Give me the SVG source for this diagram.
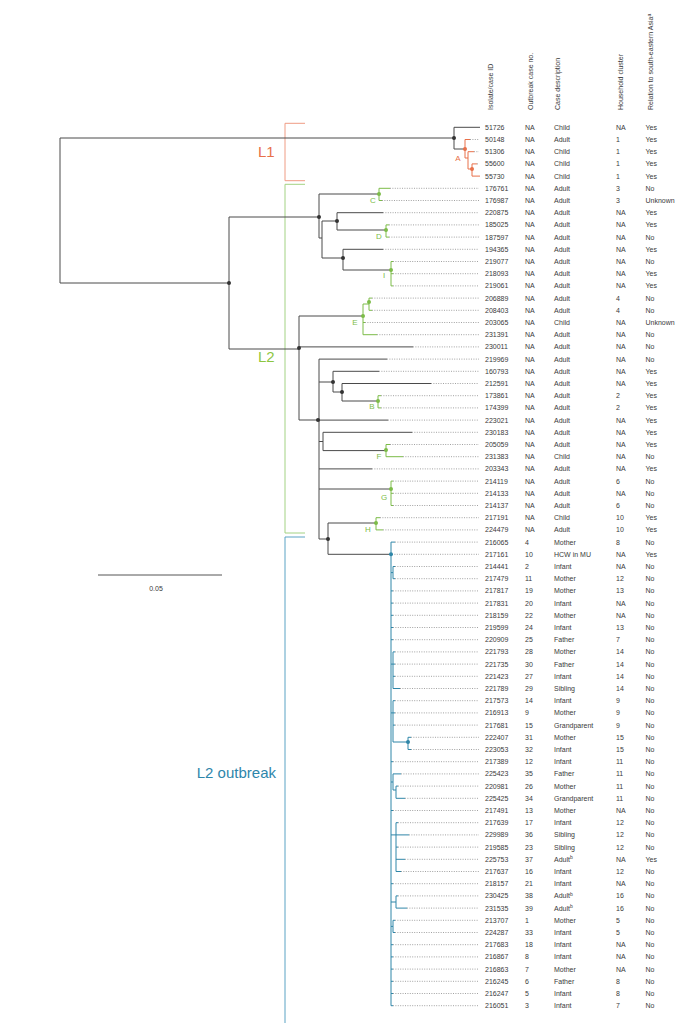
<svg xmlns="http://www.w3.org/2000/svg" width="690" height="1023" viewBox="0 0 690 1023">
<style>
.t{font-family:"Liberation Sans",Arial,sans-serif;font-size:7px;fill:#3a3a3a}
.lab{font-family:"Liberation Sans",Arial,sans-serif;font-size:8px}
.big{font-family:"Liberation Sans",Arial,sans-serif;font-size:15px}
.br{fill:none;stroke:#4a4a4a;stroke-width:1}
.o{fill:none;stroke:#e8704a;stroke-width:1}
.g{fill:none;stroke:#7cbc48;stroke-width:1}
.b{fill:none;stroke:#2f86a8;stroke-width:1}
.dt{fill:none;stroke:#8a8a8a;stroke-width:0.8;stroke-dasharray:1 1.4}
.dk{fill:#333}
.do{fill:#e8704a}
.dg{fill:#7cbc48}
.db{fill:#2f86a8}
</style>
<rect width="690" height="1023" fill="#fff"/>
<g id="header" class="t">
<text transform="translate(493,110) rotate(-90)">Isolate/case ID</text>
<text transform="translate(533,110) rotate(-90)">Outbreak case no.</text>
<text transform="translate(560,110) rotate(-90)">Case description</text>
<text transform="translate(623,110) rotate(-90)">Household cluster</text>
<text transform="translate(653,110) rotate(-90)">Relation to south-eastern Asia<tspan font-size="5" dy="-2.5">a</tspan></text>
</g>
<g id="brackets">
<path d="M305 123.3H285V180.7H305" fill="none" stroke="#ef9c84" stroke-width="1"/>
<path d="M305 184.3H285V533H305" fill="none" stroke="#a3d283" stroke-width="1"/>
<path d="M305 537H285V1023" fill="none" stroke="#5aa3c4" stroke-width="1"/>
<text class="big" x="258" y="157" fill="#e8704a">L1</text>
<text class="big" x="258" y="362" fill="#8cc63f">L2</text>
<text class="big" x="276" y="778" fill="#2e86ab" text-anchor="end">L2 outbreak</text>
</g>
<g id="scale">
<path d="M98 575H222" stroke="#555" stroke-width="1"/>
<text class="t" x="156" y="591" text-anchor="middle">0.05</text>
</g>
<g id="connectors">
<path class="dt" d="M470 139.5H479M474 151.7H479M477 163.9H479M390 188.3H479M382 200.5H479M383 212.7H479M389 224.9H479M389 237.1H479M383 249.3H479M393 261.5H479M393 273.7H479M393 285.9H479M372 298.1H479M372 310.3H479M365 322.5H479M377 334.7H479M413 346.9H479M387 359.1H479M379 371.3H479M431 383.5H479M381 395.7H479M381 407.9H479M388 420.1H479M412 432.3H479M390 444.5H479M403 456.7H479M372 468.9H479M393 481.1H479M393 493.3H479M393 505.5H479M380 517.7H479M383 529.9H479M395 542.1H479M392 554.3H479M395 566.5H479M395 578.7H479M393 590.9H479M393 603.1H479M393 615.3H479M393 627.5H479M393 639.7H479M395 651.9H479M395 664.1H479M395 676.3H479M400 688.5H479M395 700.7H479M395 712.9H479M395 725.1H479M411 737.3H479M411 749.5H479M393 761.7H479M401 773.9H479M398 786.1H479M405 798.3H479M393 810.5H479M398 822.7H479M409 834.9H479M398 847.1H479M405 859.3H479M401 871.5H479M393 883.7H479M398 895.9H479M407 908.1H479M395 920.3H479M395 932.5H479M393 944.7H479M393 956.9H479M393 969.1H479M393 981.3H479M393 993.5H479M393 1005.7H479"/>
<path class="br" d="M60 138V283M60 138H454M60 283H229M229 217V349M229 217H319M229 349H299M319 194V238M319 194H379M319 238H322M322 221V258M322 221H337M322 258H343M337 212.7V230M337 212.7H383M337 230H386M343 249.3V270M343 249.3H383M343 270H391M454 127.3V149M454 127.3H480M454 149H465M299 316V420M299 316H363M299 346.9H413M299 420H319M319 359.1V539M319 359.1H387M319 382H333M319 420.1H388M319 441.5H323M319 468.9H372M319 489H391M319 539H328M333 371.3V392M333 371.3H379M333 392H342M342 383.5V401M342 383.5H431M342 401H378M323 432.3V450.6M323 432.3H412M323 450.6H386M328 523V554.3M328 523H376M328 554.3H391"/>
<path class="o" d="M465 139.5V158M465 139.5H470M465 158H468M468 151.7V169M468 151.7H474M468 169H472M472 163.9V176.1M472 163.9H477M472 176.1H480"/>
<path class="g" d="M379 188.3V200.5M379 188.3H390M379 200.5H382M386 224.9V237.1M386 224.9H389M386 237.1H389M391 261.5V285.9M391 261.5H393M391 273.7H393M391 285.9H393M363 304V334.7M363 304H369M363 322.5H365M363 334.7H377M369 298.1V310.3M369 298.1H372M369 310.3H372M378 395.7V407.9M378 395.7H381M378 407.9H381M386 444.5V456.7M386 444.5H390M386 456.7H403M391 481.1V505.5M391 481.1H393M391 493.3H393M391 505.5H393M376 517.7V529.9M376 517.7H380M376 529.9H383"/>
<path class="b" d="M391 542.1V1005.7M391 542.1H395M391 554.3H392M391 590.9H393M391 603.1H393M391 615.3H393M391 627.5H393M391 639.7H393M391 761.7H393M391 810.5H393M391 883.7H393M391 944.7H393M391 956.9H393M391 969.1H393M391 981.3H393M391 993.5H393M391 1005.7H393M391 572.6H393M393 566.5V578.7M393 566.5H395M393 578.7H395M391 664.1H395M393 651.9V688.5M393 651.9H395M393 676.3H395M393 688.5H400M391 712.9H395M393 700.7V742M393 700.7H395M393 725.1H395M393 742H408M408 737.3V749.5M408 737.3H411M408 749.5H411M391 782H393M393 773.9V790M393 773.9H401M393 790H396M396 786.1V798.3M396 786.1H398M396 798.3H405M391 834.9H409M396 822.7V871.5M396 822.7H398M396 847.1H398M396 859.3H405M396 871.5H401M391 902H396M396 895.9V908.1M396 895.9H398M396 908.1H407M391 926.4H393M393 920.3V932.5M393 920.3H395M393 932.5H395"/>
</g>
<g id="internal-nodes">
<circle class="dk" cx="454" cy="138" r="2"/>
<circle class="dk" cx="229" cy="283" r="2"/>
<circle class="dk" cx="319" cy="217" r="2"/>
<circle class="dk" cx="337" cy="221" r="2"/>
<circle class="dk" cx="343" cy="258" r="2"/>
<circle class="dk" cx="299" cy="348" r="2"/>
<circle class="dk" cx="333" cy="382" r="2"/>
<circle class="dk" cx="342" cy="392" r="2"/>
<circle class="dk" cx="318" cy="420" r="2"/>
<circle class="dk" cx="328" cy="539" r="2"/>
<circle class="do" cx="465" cy="149" r="2"/>
<circle class="do" cx="472" cy="169" r="2"/>
<circle class="dg" cx="379" cy="194" r="2"/>
<circle class="dg" cx="386" cy="230" r="2"/>
<circle class="dg" cx="391" cy="270" r="2"/>
<circle class="dg" cx="363" cy="316" r="2"/>
<circle class="dg" cx="369" cy="302" r="2"/>
<circle class="dg" cx="378" cy="401" r="2"/>
<circle class="dg" cx="386" cy="450" r="2"/>
<circle class="dg" cx="391" cy="489" r="2"/>
<circle class="dg" cx="376" cy="523" r="2"/>
<circle class="db" cx="391" cy="554.3" r="2"/>
<circle class="db" cx="408" cy="742" r="2"/>
</g>
<g id="clade-labels" class="lab" text-anchor="middle">
<text x="458" y="161" fill="#e8704a">A</text>
<text x="373" y="203" fill="#7cbc48">C</text>
<text x="379" y="239" fill="#7cbc48">D</text>
<text x="384" y="278" fill="#7cbc48">I</text>
<text x="355" y="325" fill="#7cbc48">E</text>
<text x="372" y="409" fill="#7cbc48">B</text>
<text x="379" y="459" fill="#7cbc48">F</text>
<text x="384" y="500" fill="#7cbc48">G</text>
<text x="368" y="532" fill="#7cbc48">H</text>
</g>
<g id="leaves" class="t">
<g id="leaf-51726"><text y="129.8"><tspan x="485">51726</tspan><tspan x="525">NA</tspan><tspan x="554">Child</tspan><tspan x="616">NA</tspan><tspan x="645.5">Yes</tspan></text></g>
<g id="leaf-50148"><text y="142"><tspan x="485">50148</tspan><tspan x="525">NA</tspan><tspan x="554">Adult</tspan><tspan x="616">1</tspan><tspan x="645.5">Yes</tspan></text></g>
<g id="leaf-51306"><text y="154.2"><tspan x="485">51306</tspan><tspan x="525">NA</tspan><tspan x="554">Child</tspan><tspan x="616">1</tspan><tspan x="645.5">Yes</tspan></text></g>
<g id="leaf-55600"><text y="166.4"><tspan x="485">55600</tspan><tspan x="525">NA</tspan><tspan x="554">Child</tspan><tspan x="616">1</tspan><tspan x="645.5">Yes</tspan></text></g>
<g id="leaf-55730"><text y="178.6"><tspan x="485">55730</tspan><tspan x="525">NA</tspan><tspan x="554">Child</tspan><tspan x="616">1</tspan><tspan x="645.5">Yes</tspan></text></g>
<g id="leaf-176761"><text y="190.8"><tspan x="485">176761</tspan><tspan x="525">NA</tspan><tspan x="554">Adult</tspan><tspan x="616">3</tspan><tspan x="645.5">No</tspan></text></g>
<g id="leaf-176987"><text y="203"><tspan x="485">176987</tspan><tspan x="525">NA</tspan><tspan x="554">Adult</tspan><tspan x="616">3</tspan><tspan x="645.5">Unknown</tspan></text></g>
<g id="leaf-220875"><text y="215.2"><tspan x="485">220875</tspan><tspan x="525">NA</tspan><tspan x="554">Adult</tspan><tspan x="616">NA</tspan><tspan x="645.5">Yes</tspan></text></g>
<g id="leaf-185025"><text y="227.4"><tspan x="485">185025</tspan><tspan x="525">NA</tspan><tspan x="554">Adult</tspan><tspan x="616">NA</tspan><tspan x="645.5">Yes</tspan></text></g>
<g id="leaf-187597"><text y="239.6"><tspan x="485">187597</tspan><tspan x="525">NA</tspan><tspan x="554">Adult</tspan><tspan x="616">NA</tspan><tspan x="645.5">No</tspan></text></g>
<g id="leaf-194365"><text y="251.8"><tspan x="485">194365</tspan><tspan x="525">NA</tspan><tspan x="554">Adult</tspan><tspan x="616">NA</tspan><tspan x="645.5">Yes</tspan></text></g>
<g id="leaf-219077"><text y="264"><tspan x="485">219077</tspan><tspan x="525">NA</tspan><tspan x="554">Adult</tspan><tspan x="616">NA</tspan><tspan x="645.5">No</tspan></text></g>
<g id="leaf-218093"><text y="276.2"><tspan x="485">218093</tspan><tspan x="525">NA</tspan><tspan x="554">Adult</tspan><tspan x="616">NA</tspan><tspan x="645.5">Yes</tspan></text></g>
<g id="leaf-219061"><text y="288.4"><tspan x="485">219061</tspan><tspan x="525">NA</tspan><tspan x="554">Adult</tspan><tspan x="616">NA</tspan><tspan x="645.5">Yes</tspan></text></g>
<g id="leaf-206889"><text y="300.6"><tspan x="485">206889</tspan><tspan x="525">NA</tspan><tspan x="554">Adult</tspan><tspan x="616">4</tspan><tspan x="645.5">No</tspan></text></g>
<g id="leaf-208403"><text y="312.8"><tspan x="485">208403</tspan><tspan x="525">NA</tspan><tspan x="554">Adult</tspan><tspan x="616">4</tspan><tspan x="645.5">No</tspan></text></g>
<g id="leaf-203065"><text y="325"><tspan x="485">203065</tspan><tspan x="525">NA</tspan><tspan x="554">Child</tspan><tspan x="616">NA</tspan><tspan x="645.5">Unknown</tspan></text></g>
<g id="leaf-231391"><text y="337.2"><tspan x="485">231391</tspan><tspan x="525">NA</tspan><tspan x="554">Adult</tspan><tspan x="616">NA</tspan><tspan x="645.5">No</tspan></text></g>
<g id="leaf-230011"><text y="349.4"><tspan x="485">230011</tspan><tspan x="525">NA</tspan><tspan x="554">Adult</tspan><tspan x="616">NA</tspan><tspan x="645.5">No</tspan></text></g>
<g id="leaf-219969"><text y="361.6"><tspan x="485">219969</tspan><tspan x="525">NA</tspan><tspan x="554">Adult</tspan><tspan x="616">NA</tspan><tspan x="645.5">No</tspan></text></g>
<g id="leaf-160793"><text y="373.8"><tspan x="485">160793</tspan><tspan x="525">NA</tspan><tspan x="554">Adult</tspan><tspan x="616">NA</tspan><tspan x="645.5">Yes</tspan></text></g>
<g id="leaf-212591"><text y="386"><tspan x="485">212591</tspan><tspan x="525">NA</tspan><tspan x="554">Adult</tspan><tspan x="616">NA</tspan><tspan x="645.5">Yes</tspan></text></g>
<g id="leaf-173861"><text y="398.2"><tspan x="485">173861</tspan><tspan x="525">NA</tspan><tspan x="554">Adult</tspan><tspan x="616">2</tspan><tspan x="645.5">Yes</tspan></text></g>
<g id="leaf-174399"><text y="410.4"><tspan x="485">174399</tspan><tspan x="525">NA</tspan><tspan x="554">Adult</tspan><tspan x="616">2</tspan><tspan x="645.5">Yes</tspan></text></g>
<g id="leaf-223021"><text y="422.6"><tspan x="485">223021</tspan><tspan x="525">NA</tspan><tspan x="554">Adult</tspan><tspan x="616">NA</tspan><tspan x="645.5">Yes</tspan></text></g>
<g id="leaf-230183"><text y="434.8"><tspan x="485">230183</tspan><tspan x="525">NA</tspan><tspan x="554">Adult</tspan><tspan x="616">NA</tspan><tspan x="645.5">Yes</tspan></text></g>
<g id="leaf-205059"><text y="447"><tspan x="485">205059</tspan><tspan x="525">NA</tspan><tspan x="554">Adult</tspan><tspan x="616">NA</tspan><tspan x="645.5">Yes</tspan></text></g>
<g id="leaf-231383"><text y="459.2"><tspan x="485">231383</tspan><tspan x="525">NA</tspan><tspan x="554">Child</tspan><tspan x="616">NA</tspan><tspan x="645.5">No</tspan></text></g>
<g id="leaf-203343"><text y="471.4"><tspan x="485">203343</tspan><tspan x="525">NA</tspan><tspan x="554">Adult</tspan><tspan x="616">NA</tspan><tspan x="645.5">Yes</tspan></text></g>
<g id="leaf-214119"><text y="483.6"><tspan x="485">214119</tspan><tspan x="525">NA</tspan><tspan x="554">Adult</tspan><tspan x="616">6</tspan><tspan x="645.5">No</tspan></text></g>
<g id="leaf-214133"><text y="495.8"><tspan x="485">214133</tspan><tspan x="525">NA</tspan><tspan x="554">Adult</tspan><tspan x="616">NA</tspan><tspan x="645.5">No</tspan></text></g>
<g id="leaf-214137"><text y="508"><tspan x="485">214137</tspan><tspan x="525">NA</tspan><tspan x="554">Adult</tspan><tspan x="616">6</tspan><tspan x="645.5">No</tspan></text></g>
<g id="leaf-217191"><text y="520.2"><tspan x="485">217191</tspan><tspan x="525">NA</tspan><tspan x="554">Child</tspan><tspan x="616">10</tspan><tspan x="645.5">Yes</tspan></text></g>
<g id="leaf-224479"><text y="532.4"><tspan x="485">224479</tspan><tspan x="525">NA</tspan><tspan x="554">Adult</tspan><tspan x="616">10</tspan><tspan x="645.5">Yes</tspan></text></g>
<g id="leaf-216065"><text y="544.6"><tspan x="485">216065</tspan><tspan x="525">4</tspan><tspan x="554">Mother</tspan><tspan x="616">8</tspan><tspan x="645.5">No</tspan></text></g>
<g id="leaf-217161"><text y="556.8"><tspan x="485">217161</tspan><tspan x="525">10</tspan><tspan x="554">HCW in MU</tspan><tspan x="616">NA</tspan><tspan x="645.5">Yes</tspan></text></g>
<g id="leaf-214441"><text y="569"><tspan x="485">214441</tspan><tspan x="525">2</tspan><tspan x="554">Infant</tspan><tspan x="616">NA</tspan><tspan x="645.5">No</tspan></text></g>
<g id="leaf-217479"><text y="581.2"><tspan x="485">217479</tspan><tspan x="525">11</tspan><tspan x="554">Mother</tspan><tspan x="616">12</tspan><tspan x="645.5">No</tspan></text></g>
<g id="leaf-217817"><text y="593.4"><tspan x="485">217817</tspan><tspan x="525">19</tspan><tspan x="554">Mother</tspan><tspan x="616">13</tspan><tspan x="645.5">No</tspan></text></g>
<g id="leaf-217831"><text y="605.6"><tspan x="485">217831</tspan><tspan x="525">20</tspan><tspan x="554">Infant</tspan><tspan x="616">NA</tspan><tspan x="645.5">No</tspan></text></g>
<g id="leaf-218159"><text y="617.8"><tspan x="485">218159</tspan><tspan x="525">22</tspan><tspan x="554">Mother</tspan><tspan x="616">NA</tspan><tspan x="645.5">No</tspan></text></g>
<g id="leaf-219599"><text y="630"><tspan x="485">219599</tspan><tspan x="525">24</tspan><tspan x="554">Infant</tspan><tspan x="616">13</tspan><tspan x="645.5">No</tspan></text></g>
<g id="leaf-220909"><text y="642.2"><tspan x="485">220909</tspan><tspan x="525">25</tspan><tspan x="554">Father</tspan><tspan x="616">7</tspan><tspan x="645.5">No</tspan></text></g>
<g id="leaf-221793"><text y="654.4"><tspan x="485">221793</tspan><tspan x="525">28</tspan><tspan x="554">Mother</tspan><tspan x="616">14</tspan><tspan x="645.5">No</tspan></text></g>
<g id="leaf-221735"><text y="666.6"><tspan x="485">221735</tspan><tspan x="525">30</tspan><tspan x="554">Father</tspan><tspan x="616">14</tspan><tspan x="645.5">No</tspan></text></g>
<g id="leaf-221423"><text y="678.8"><tspan x="485">221423</tspan><tspan x="525">27</tspan><tspan x="554">Infant</tspan><tspan x="616">14</tspan><tspan x="645.5">No</tspan></text></g>
<g id="leaf-221789"><text y="691"><tspan x="485">221789</tspan><tspan x="525">29</tspan><tspan x="554">Sibling</tspan><tspan x="616">14</tspan><tspan x="645.5">No</tspan></text></g>
<g id="leaf-217573"><text y="703.2"><tspan x="485">217573</tspan><tspan x="525">14</tspan><tspan x="554">Infant</tspan><tspan x="616">9</tspan><tspan x="645.5">No</tspan></text></g>
<g id="leaf-216913"><text y="715.4"><tspan x="485">216913</tspan><tspan x="525">9</tspan><tspan x="554">Mother</tspan><tspan x="616">9</tspan><tspan x="645.5">No</tspan></text></g>
<g id="leaf-217681"><text y="727.6"><tspan x="485">217681</tspan><tspan x="525">15</tspan><tspan x="554">Grandparent</tspan><tspan x="616">9</tspan><tspan x="645.5">No</tspan></text></g>
<g id="leaf-222407"><text y="739.8"><tspan x="485">222407</tspan><tspan x="525">31</tspan><tspan x="554">Mother</tspan><tspan x="616">15</tspan><tspan x="645.5">No</tspan></text></g>
<g id="leaf-223053"><text y="752"><tspan x="485">223053</tspan><tspan x="525">32</tspan><tspan x="554">Infant</tspan><tspan x="616">15</tspan><tspan x="645.5">No</tspan></text></g>
<g id="leaf-217389"><text y="764.2"><tspan x="485">217389</tspan><tspan x="525">12</tspan><tspan x="554">Infant</tspan><tspan x="616">11</tspan><tspan x="645.5">No</tspan></text></g>
<g id="leaf-225423"><text y="776.4"><tspan x="485">225423</tspan><tspan x="525">35</tspan><tspan x="554">Father</tspan><tspan x="616">11</tspan><tspan x="645.5">No</tspan></text></g>
<g id="leaf-220981"><text y="788.6"><tspan x="485">220981</tspan><tspan x="525">26</tspan><tspan x="554">Mother</tspan><tspan x="616">11</tspan><tspan x="645.5">No</tspan></text></g>
<g id="leaf-225425"><text y="800.8"><tspan x="485">225425</tspan><tspan x="525">34</tspan><tspan x="554">Grandparent</tspan><tspan x="616">11</tspan><tspan x="645.5">No</tspan></text></g>
<g id="leaf-217491"><text y="813"><tspan x="485">217491</tspan><tspan x="525">13</tspan><tspan x="554">Mother</tspan><tspan x="616">NA</tspan><tspan x="645.5">No</tspan></text></g>
<g id="leaf-217639"><text y="825.2"><tspan x="485">217639</tspan><tspan x="525">17</tspan><tspan x="554">Infant</tspan><tspan x="616">12</tspan><tspan x="645.5">No</tspan></text></g>
<g id="leaf-229989"><text y="837.4"><tspan x="485">229989</tspan><tspan x="525">36</tspan><tspan x="554">Sibling</tspan><tspan x="616">12</tspan><tspan x="645.5">No</tspan></text></g>
<g id="leaf-219585"><text y="849.6"><tspan x="485">219585</tspan><tspan x="525">23</tspan><tspan x="554">Sibling</tspan><tspan x="616">12</tspan><tspan x="645.5">No</tspan></text></g>
<g id="leaf-225753"><text y="861.8"><tspan x="485">225753</tspan><tspan x="525">37</tspan><tspan x="554">Adult<tspan font-size="5" dy="-2.5">b</tspan></tspan><tspan x="616" dy="2.5">NA</tspan><tspan x="645.5">Yes</tspan></text></g>
<g id="leaf-217637"><text y="874"><tspan x="485">217637</tspan><tspan x="525">16</tspan><tspan x="554">Infant</tspan><tspan x="616">12</tspan><tspan x="645.5">No</tspan></text></g>
<g id="leaf-218157"><text y="886.2"><tspan x="485">218157</tspan><tspan x="525">21</tspan><tspan x="554">Infant</tspan><tspan x="616">NA</tspan><tspan x="645.5">No</tspan></text></g>
<g id="leaf-230425"><text y="898.4"><tspan x="485">230425</tspan><tspan x="525">38</tspan><tspan x="554">Adult<tspan font-size="5" dy="-2.5">b</tspan></tspan><tspan x="616" dy="2.5">16</tspan><tspan x="645.5">No</tspan></text></g>
<g id="leaf-231535"><text y="910.6"><tspan x="485">231535</tspan><tspan x="525">39</tspan><tspan x="554">Adult<tspan font-size="5" dy="-2.5">b</tspan></tspan><tspan x="616" dy="2.5">16</tspan><tspan x="645.5">No</tspan></text></g>
<g id="leaf-213707"><text y="922.8"><tspan x="485">213707</tspan><tspan x="525">1</tspan><tspan x="554">Mother</tspan><tspan x="616">5</tspan><tspan x="645.5">No</tspan></text></g>
<g id="leaf-224287"><text y="935"><tspan x="485">224287</tspan><tspan x="525">33</tspan><tspan x="554">Infant</tspan><tspan x="616">5</tspan><tspan x="645.5">No</tspan></text></g>
<g id="leaf-217683"><text y="947.2"><tspan x="485">217683</tspan><tspan x="525">18</tspan><tspan x="554">Infant</tspan><tspan x="616">NA</tspan><tspan x="645.5">No</tspan></text></g>
<g id="leaf-216867"><text y="959.4"><tspan x="485">216867</tspan><tspan x="525">8</tspan><tspan x="554">Infant</tspan><tspan x="616">NA</tspan><tspan x="645.5">No</tspan></text></g>
<g id="leaf-216863"><text y="971.6"><tspan x="485">216863</tspan><tspan x="525">7</tspan><tspan x="554">Mother</tspan><tspan x="616">NA</tspan><tspan x="645.5">No</tspan></text></g>
<g id="leaf-216245"><text y="983.8"><tspan x="485">216245</tspan><tspan x="525">6</tspan><tspan x="554">Father</tspan><tspan x="616">8</tspan><tspan x="645.5">No</tspan></text></g>
<g id="leaf-216247"><text y="996"><tspan x="485">216247</tspan><tspan x="525">5</tspan><tspan x="554">Infant</tspan><tspan x="616">8</tspan><tspan x="645.5">No</tspan></text></g>
<g id="leaf-216051"><text y="1008.2"><tspan x="485">216051</tspan><tspan x="525">3</tspan><tspan x="554">Infant</tspan><tspan x="616">7</tspan><tspan x="645.5">No</tspan></text></g>
</g>
</svg>
